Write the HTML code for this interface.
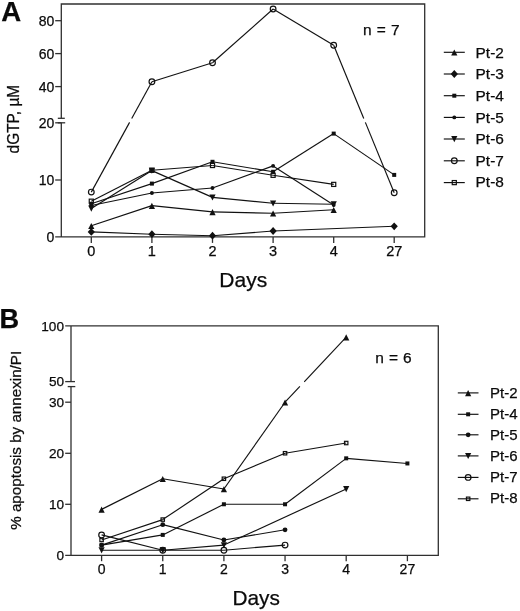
<!DOCTYPE html>
<html lang="en">
<head>
<meta charset="utf-8">
<title>Figure</title>
<style>
html,body{margin:0;padding:0;background:#fff;}
body{width:520px;height:611px;overflow:hidden;}
svg{display:block;filter:grayscale(1);}
svg text{font-family:"Liberation Sans",Arial,Helvetica,sans-serif;fill:#0a0a0a;stroke:#0a0a0a;stroke-width:0.25px;}
</style>
</head>
<body>
<svg width="520" height="611" viewBox="0 0 520 611">
<rect width="520" height="611" fill="#fff"/>
<g stroke="#303030" stroke-width="1.3"><path d="M61.3,118.3 V4.0 H424.7 V236.9 H55.2 M61.3,236.9 V122.8" fill="none"/><line x1="55.2" y1="20.7" x2="61.3" y2="20.7"/><line x1="55.2" y1="53.6" x2="61.3" y2="53.6"/><line x1="55.2" y1="86.6" x2="61.3" y2="86.6"/><line x1="55.2" y1="122.8" x2="61.3" y2="122.8"/><line x1="55.2" y1="180.0" x2="61.3" y2="180.0"/><line x1="57.8" y1="118.3" x2="64.8" y2="118.3"/><line x1="57.8" y1="122.8" x2="65.2" y2="122.8"/><line x1="91.3" y1="236.9" x2="91.3" y2="242.9"/><line x1="151.9" y1="236.9" x2="151.9" y2="242.9"/><line x1="212.5" y1="236.9" x2="212.5" y2="242.9"/><line x1="273.1" y1="236.9" x2="273.1" y2="242.9"/><line x1="333.7" y1="236.9" x2="333.7" y2="242.9"/><line x1="394.2" y1="236.9" x2="394.2" y2="242.9"/></g>
<text x="54.4" y="25.7" font-size="14" text-anchor="end">80</text>
<text x="54.4" y="58.6" font-size="14" text-anchor="end">60</text>
<text x="54.4" y="91.6" font-size="14" text-anchor="end">40</text>
<text x="54.4" y="127.8" font-size="14" text-anchor="end">20</text>
<text x="54.4" y="185.0" font-size="14" text-anchor="end">10</text>
<text x="54.4" y="241.9" font-size="14" text-anchor="end">0</text>
<text x="91.3" y="255.8" font-size="14.5" text-anchor="middle">0</text>
<text x="151.9" y="255.8" font-size="14.5" text-anchor="middle">1</text>
<text x="212.5" y="255.8" font-size="14.5" text-anchor="middle">2</text>
<text x="273.1" y="255.8" font-size="14.5" text-anchor="middle">3</text>
<text x="333.7" y="255.8" font-size="14.5" text-anchor="middle">4</text>
<text x="394.2" y="255.8" font-size="14.5" text-anchor="middle">27</text>
<g stroke="#111" stroke-width="1.15" stroke-linecap="butt"><line x1="91.30" y1="231.90" x2="151.90" y2="234.20"/><line x1="151.90" y1="234.20" x2="212.50" y2="235.70"/><line x1="212.50" y1="235.70" x2="273.10" y2="231.00"/><line x1="273.10" y1="231.00" x2="394.20" y2="226.30"/></g><polygon points="87.70,231.90 91.30,228.00 94.90,231.90 91.30,235.80" fill="#111"/><polygon points="148.30,234.20 151.90,230.30 155.50,234.20 151.90,238.10" fill="#111"/><polygon points="208.90,235.70 212.50,231.80 216.10,235.70 212.50,239.60" fill="#111"/><polygon points="269.50,231.00 273.10,227.10 276.70,231.00 273.10,234.90" fill="#111"/><polygon points="390.60,226.30 394.20,222.40 397.80,226.30 394.20,230.20" fill="#111"/>
<g stroke="#111" stroke-width="1.15" stroke-linecap="butt"><line x1="91.30" y1="225.80" x2="151.90" y2="205.60"/><line x1="151.90" y1="205.60" x2="212.50" y2="211.90"/><line x1="212.50" y1="211.90" x2="273.10" y2="213.30"/><line x1="273.10" y1="213.30" x2="333.70" y2="209.80"/></g><polygon points="88.20,229.10 94.40,229.10 91.30,223.00" fill="#111"/><polygon points="148.80,208.90 155.00,208.90 151.90,202.80" fill="#111"/><polygon points="209.40,215.20 215.60,215.20 212.50,209.10" fill="#111"/><polygon points="270.00,216.60 276.20,216.60 273.10,210.50" fill="#111"/><polygon points="330.60,213.10 336.80,213.10 333.70,207.00" fill="#111"/>
<g stroke="#111" stroke-width="1.15" stroke-linecap="butt"><line x1="91.30" y1="208.50" x2="151.90" y2="170.60"/><line x1="151.90" y1="170.60" x2="212.50" y2="197.40"/><line x1="212.50" y1="197.40" x2="273.10" y2="203.30"/><line x1="273.10" y1="203.30" x2="333.70" y2="204.20"/></g><polygon points="88.20,205.60 94.40,205.60 91.30,211.70" fill="#111"/><polygon points="148.80,167.70 155.00,167.70 151.90,173.80" fill="#111"/><polygon points="209.40,194.50 215.60,194.50 212.50,200.60" fill="#111"/><polygon points="270.00,200.40 276.20,200.40 273.10,206.50" fill="#111"/><polygon points="330.60,201.30 336.80,201.30 333.70,207.40" fill="#111"/>
<g stroke="#111" stroke-width="1.15" stroke-linecap="butt"><line x1="91.30" y1="205.50" x2="151.90" y2="193.00"/><line x1="151.90" y1="193.00" x2="212.50" y2="188.00"/><line x1="212.50" y1="188.00" x2="273.10" y2="165.90"/><line x1="273.10" y1="165.90" x2="333.70" y2="205.00"/></g><circle cx="91.30" cy="205.50" r="1.95" fill="#111"/><circle cx="151.90" cy="193.00" r="1.95" fill="#111"/><circle cx="212.50" cy="188.00" r="1.95" fill="#111"/><circle cx="273.10" cy="165.90" r="1.95" fill="#111"/><circle cx="333.70" cy="205.00" r="1.95" fill="#111"/>
<g stroke="#111" stroke-width="1.15" stroke-linecap="butt"><line x1="91.30" y1="203.80" x2="151.90" y2="183.60"/><line x1="151.90" y1="183.60" x2="212.50" y2="161.80"/><line x1="212.50" y1="161.80" x2="273.10" y2="171.80"/><line x1="273.10" y1="171.80" x2="333.70" y2="133.60"/><line x1="333.70" y1="133.60" x2="394.20" y2="174.90"/></g><rect x="89.30" y="201.80" width="4.0" height="4.0" fill="#111"/><rect x="149.90" y="181.60" width="4.0" height="4.0" fill="#111"/><rect x="210.50" y="159.80" width="4.0" height="4.0" fill="#111"/><rect x="271.10" y="169.80" width="4.0" height="4.0" fill="#111"/><rect x="331.70" y="131.60" width="4.0" height="4.0" fill="#111"/><rect x="392.20" y="172.90" width="4.0" height="4.0" fill="#111"/>
<g stroke="#111" stroke-width="1.15" stroke-linecap="butt"><line x1="91.30" y1="201.20" x2="151.90" y2="170.30"/><line x1="151.90" y1="170.30" x2="212.50" y2="165.50"/><line x1="212.50" y1="165.50" x2="273.10" y2="175.30"/><line x1="273.10" y1="175.30" x2="333.70" y2="184.40"/></g><rect x="89.25" y="199.15" width="4.1" height="4.1" fill="none" stroke="#111" stroke-width="1.2"/><rect x="149.85" y="168.25" width="4.1" height="4.1" fill="none" stroke="#111" stroke-width="1.2"/><rect x="210.45" y="163.45" width="4.1" height="4.1" fill="none" stroke="#111" stroke-width="1.2"/><rect x="271.05" y="173.25" width="4.1" height="4.1" fill="none" stroke="#111" stroke-width="1.2"/><rect x="331.65" y="182.35" width="4.1" height="4.1" fill="none" stroke="#111" stroke-width="1.2"/>
<g stroke="#111" stroke-width="1.15" stroke-linecap="butt"><line x1="91.30" y1="192.10" x2="129.58" y2="122.40"/><line x1="131.72" y1="118.50" x2="151.90" y2="81.75"/><line x1="151.90" y1="81.75" x2="212.50" y2="62.75"/><line x1="212.50" y1="62.75" x2="273.10" y2="9.00"/><line x1="273.10" y1="9.00" x2="333.70" y2="45.25"/><line x1="333.70" y1="45.25" x2="363.76" y2="118.50"/><line x1="365.36" y1="122.40" x2="394.20" y2="192.70"/></g><circle cx="91.30" cy="192.10" r="2.85" fill="none" stroke="#111" stroke-width="1.2"/><circle cx="151.90" cy="81.75" r="2.85" fill="none" stroke="#111" stroke-width="1.2"/><circle cx="212.50" cy="62.75" r="2.85" fill="none" stroke="#111" stroke-width="1.2"/><circle cx="273.10" cy="9.00" r="2.85" fill="none" stroke="#111" stroke-width="1.2"/><circle cx="333.70" cy="45.25" r="2.85" fill="none" stroke="#111" stroke-width="1.2"/><circle cx="394.20" cy="192.70" r="2.85" fill="none" stroke="#111" stroke-width="1.2"/>
<text x="363" y="34.8" font-size="15.5" word-spacing="0.8">n = 7</text>
<line x1="443.8" y1="52.3" x2="464.8" y2="52.3" stroke="#111" stroke-width="1.15"/><polygon points="451.20,55.60 457.40,55.60 454.30,49.50" fill="#111"/><text x="475.6" y="57.8" font-size="15.4">Pt-2</text><line x1="443.8" y1="74.0" x2="464.8" y2="74.0" stroke="#111" stroke-width="1.15"/><polygon points="450.70,74.00 454.30,70.10 457.90,74.00 454.30,77.90" fill="#111"/><text x="475.6" y="79.4" font-size="15.4">Pt-3</text><line x1="443.8" y1="95.7" x2="464.8" y2="95.7" stroke="#111" stroke-width="1.15"/><rect x="452.30" y="93.70" width="4.0" height="4.0" fill="#111"/><text x="475.6" y="100.9" font-size="15.4">Pt-4</text><line x1="443.8" y1="117.4" x2="464.8" y2="117.4" stroke="#111" stroke-width="1.15"/><circle cx="454.30" cy="117.40" r="1.95" fill="#111"/><text x="475.6" y="122.5" font-size="15.4">Pt-5</text><line x1="443.8" y1="139.0" x2="464.8" y2="139.0" stroke="#111" stroke-width="1.15"/><polygon points="451.20,136.10 457.40,136.10 454.30,142.20" fill="#111"/><text x="475.6" y="144.0" font-size="15.4">Pt-6</text><line x1="443.8" y1="160.8" x2="464.8" y2="160.8" stroke="#111" stroke-width="1.15"/><circle cx="454.30" cy="160.80" r="2.85" fill="none" stroke="#111" stroke-width="1.2"/><text x="475.6" y="165.6" font-size="15.4">Pt-7</text><line x1="443.8" y1="182.6" x2="464.8" y2="182.6" stroke="#111" stroke-width="1.15"/><rect x="452.25" y="180.55" width="4.1" height="4.1" fill="none" stroke="#111" stroke-width="1.2"/><text x="475.6" y="187.3" font-size="15.4">Pt-8</text>
<text x="1.3" y="20.7" font-size="27.6" font-weight="bold">A</text>
<text transform="translate(18.8,153.4) rotate(-90) scale(0.975,1)" font-size="15.8">dGTP, µM</text>
<text x="243.3" y="287.4" font-size="21" text-anchor="middle">Days</text>
<g stroke="#303030" stroke-width="1.3"><path d="M71.0,381.6 V325.85 M65.2,325.85 H438.3 V555.4 H65.2 M71.0,555.4 V386.6" fill="none"/><line x1="65.2" y1="402.2" x2="71.0" y2="402.2"/><line x1="65.2" y1="453.3" x2="71.0" y2="453.3"/><line x1="65.2" y1="504.3" x2="71.0" y2="504.3"/><line x1="65.2" y1="381.6" x2="75" y2="381.6"/><line x1="67.7" y1="386.6" x2="75.3" y2="386.6"/><line x1="101.6" y1="555.4" x2="101.6" y2="561.2"/><line x1="162.75" y1="555.4" x2="162.75" y2="561.2"/><line x1="223.9" y1="555.4" x2="223.9" y2="561.2"/><line x1="285.05" y1="555.4" x2="285.05" y2="561.2"/><line x1="346.2" y1="555.4" x2="346.2" y2="561.2"/><line x1="407.4" y1="555.4" x2="407.4" y2="561.2"/></g>
<text x="64" y="330.8" font-size="13.6" text-anchor="end">100</text>
<text x="64" y="386.4" font-size="13.6" text-anchor="end">50</text>
<text x="64" y="407.0" font-size="13.6" text-anchor="end">30</text>
<text x="64" y="458.1" font-size="13.6" text-anchor="end">20</text>
<text x="64" y="509.1" font-size="13.6" text-anchor="end">10</text>
<text x="64" y="560.1" font-size="13.6" text-anchor="end">0</text>
<text x="101.6" y="574" font-size="14" text-anchor="middle">0</text>
<text x="162.75" y="574" font-size="14" text-anchor="middle">1</text>
<text x="223.9" y="574" font-size="14" text-anchor="middle">2</text>
<text x="285.05" y="574" font-size="14" text-anchor="middle">3</text>
<text x="346.2" y="574" font-size="14" text-anchor="middle">4</text>
<text x="407.4" y="574" font-size="14" text-anchor="middle">27</text>
<g stroke="#111" stroke-width="1.15" stroke-linecap="butt"><line x1="101.60" y1="550.20" x2="162.75" y2="550.20"/><line x1="162.75" y1="550.20" x2="223.90" y2="545.09"/><line x1="223.90" y1="545.09" x2="346.20" y2="488.96"/></g><polygon points="98.50,547.30 104.70,547.30 101.60,553.40" fill="#111"/><polygon points="159.65,547.30 165.85,547.30 162.75,553.40" fill="#111"/><polygon points="220.80,542.19 227.00,542.19 223.90,548.29" fill="#111"/><polygon points="343.10,486.06 349.30,486.06 346.20,492.16" fill="#111"/>
<g stroke="#111" stroke-width="1.15" stroke-linecap="butt"><line x1="101.60" y1="545.09" x2="162.75" y2="534.89"/><line x1="162.75" y1="534.89" x2="223.90" y2="504.27"/><line x1="223.90" y1="504.27" x2="285.05" y2="504.27"/><line x1="285.05" y1="504.27" x2="346.20" y2="458.34"/><line x1="346.20" y1="458.34" x2="407.40" y2="463.45"/></g><rect x="99.60" y="543.09" width="4.0" height="4.0" fill="#111"/><rect x="160.75" y="532.89" width="4.0" height="4.0" fill="#111"/><rect x="221.90" y="502.27" width="4.0" height="4.0" fill="#111"/><rect x="283.05" y="502.27" width="4.0" height="4.0" fill="#111"/><rect x="344.20" y="456.34" width="4.0" height="4.0" fill="#111"/><rect x="405.40" y="461.45" width="4.0" height="4.0" fill="#111"/>
<g stroke="#111" stroke-width="1.15" stroke-linecap="butt"><line x1="101.60" y1="545.09" x2="162.75" y2="524.68"/><line x1="162.75" y1="524.68" x2="223.90" y2="539.99"/><line x1="223.90" y1="539.99" x2="285.05" y2="529.78"/></g><circle cx="101.60" cy="545.09" r="2.4" fill="#111"/><circle cx="162.75" cy="524.68" r="2.4" fill="#111"/><circle cx="223.90" cy="539.99" r="2.4" fill="#111"/><circle cx="285.05" cy="529.78" r="2.4" fill="#111"/>
<g stroke="#111" stroke-width="1.15" stroke-linecap="butt"><line x1="101.60" y1="509.37" x2="162.75" y2="478.75"/><line x1="162.75" y1="478.75" x2="223.90" y2="488.96"/><line x1="223.90" y1="488.96" x2="285.05" y2="402.21"/><line x1="285.05" y1="402.21" x2="299.90" y2="386.40"/><line x1="304.22" y1="381.80" x2="346.20" y2="337.12"/></g><polygon points="98.50,512.67 104.70,512.67 101.60,506.57" fill="#111"/><polygon points="159.65,482.05 165.85,482.05 162.75,475.95" fill="#111"/><polygon points="220.80,492.26 227.00,492.26 223.90,486.16" fill="#111"/><polygon points="281.95,405.51 288.15,405.51 285.05,399.41" fill="#111"/><polygon points="343.10,340.42 349.30,340.42 346.20,334.32" fill="#111"/>
<g stroke="#111" stroke-width="1.15" stroke-linecap="butt"><line x1="101.60" y1="539.99" x2="162.75" y2="519.58"/><line x1="162.75" y1="519.58" x2="223.90" y2="478.75"/><line x1="223.90" y1="478.75" x2="285.05" y2="453.24"/><line x1="285.05" y1="453.24" x2="346.20" y2="443.03"/></g><rect x="99.90" y="538.29" width="3.4" height="3.4" fill="none" stroke="#111" stroke-width="1.2"/><rect x="161.05" y="517.88" width="3.4" height="3.4" fill="none" stroke="#111" stroke-width="1.2"/><rect x="222.20" y="477.05" width="3.4" height="3.4" fill="none" stroke="#111" stroke-width="1.2"/><rect x="283.35" y="451.54" width="3.4" height="3.4" fill="none" stroke="#111" stroke-width="1.2"/><rect x="344.50" y="441.33" width="3.4" height="3.4" fill="none" stroke="#111" stroke-width="1.2"/>
<g stroke="#111" stroke-width="1.15" stroke-linecap="butt"><line x1="101.60" y1="534.89" x2="162.75" y2="550.20"/><line x1="162.75" y1="550.20" x2="223.90" y2="550.20"/><line x1="223.90" y1="550.20" x2="285.05" y2="545.09"/></g><circle cx="101.60" cy="534.89" r="2.85" fill="none" stroke="#111" stroke-width="1.2"/><circle cx="162.75" cy="550.20" r="2.85" fill="none" stroke="#111" stroke-width="1.2"/><circle cx="223.90" cy="550.20" r="2.85" fill="none" stroke="#111" stroke-width="1.2"/><circle cx="285.05" cy="545.09" r="2.85" fill="none" stroke="#111" stroke-width="1.2"/>
<text x="375.2" y="362.5" font-size="15.5" word-spacing="0.8">n = 6</text>
<line x1="457.8" y1="392.9" x2="478.5" y2="392.9" stroke="#111" stroke-width="1.15"/><polygon points="465.05,396.20 471.25,396.20 468.15,390.10" fill="#111"/><text x="490" y="397.9" font-size="15">Pt-2</text><line x1="457.8" y1="414.3" x2="478.5" y2="414.3" stroke="#111" stroke-width="1.15"/><rect x="466.15" y="412.30" width="4.0" height="4.0" fill="#111"/><text x="490" y="419.2" font-size="15">Pt-4</text><line x1="457.8" y1="434.8" x2="478.5" y2="434.8" stroke="#111" stroke-width="1.15"/><circle cx="468.15" cy="434.80" r="2.4" fill="#111"/><text x="490" y="439.6" font-size="15">Pt-5</text><line x1="457.8" y1="455.9" x2="478.5" y2="455.9" stroke="#111" stroke-width="1.15"/><polygon points="465.05,453.00 471.25,453.00 468.15,459.10" fill="#111"/><text x="490" y="460.5" font-size="15">Pt-6</text><line x1="457.8" y1="477.4" x2="478.5" y2="477.4" stroke="#111" stroke-width="1.15"/><circle cx="468.15" cy="477.40" r="2.85" fill="none" stroke="#111" stroke-width="1.2"/><text x="490" y="481.9" font-size="15">Pt-7</text><line x1="457.8" y1="498.8" x2="478.5" y2="498.8" stroke="#111" stroke-width="1.15"/><rect x="466.45" y="497.10" width="3.4" height="3.4" fill="none" stroke="#111" stroke-width="1.2"/><text x="490" y="503.2" font-size="15">Pt-8</text>
<text x="-0.6" y="328.2" font-size="27.2" font-weight="bold">B</text>
<text transform="translate(21.4,529.8) rotate(-90)" font-size="15.2">% apoptosis by annexin/PI</text>
<text x="256.2" y="604.5" font-size="20.8" text-anchor="middle">Days</text>
</svg>
</body>
</html>
